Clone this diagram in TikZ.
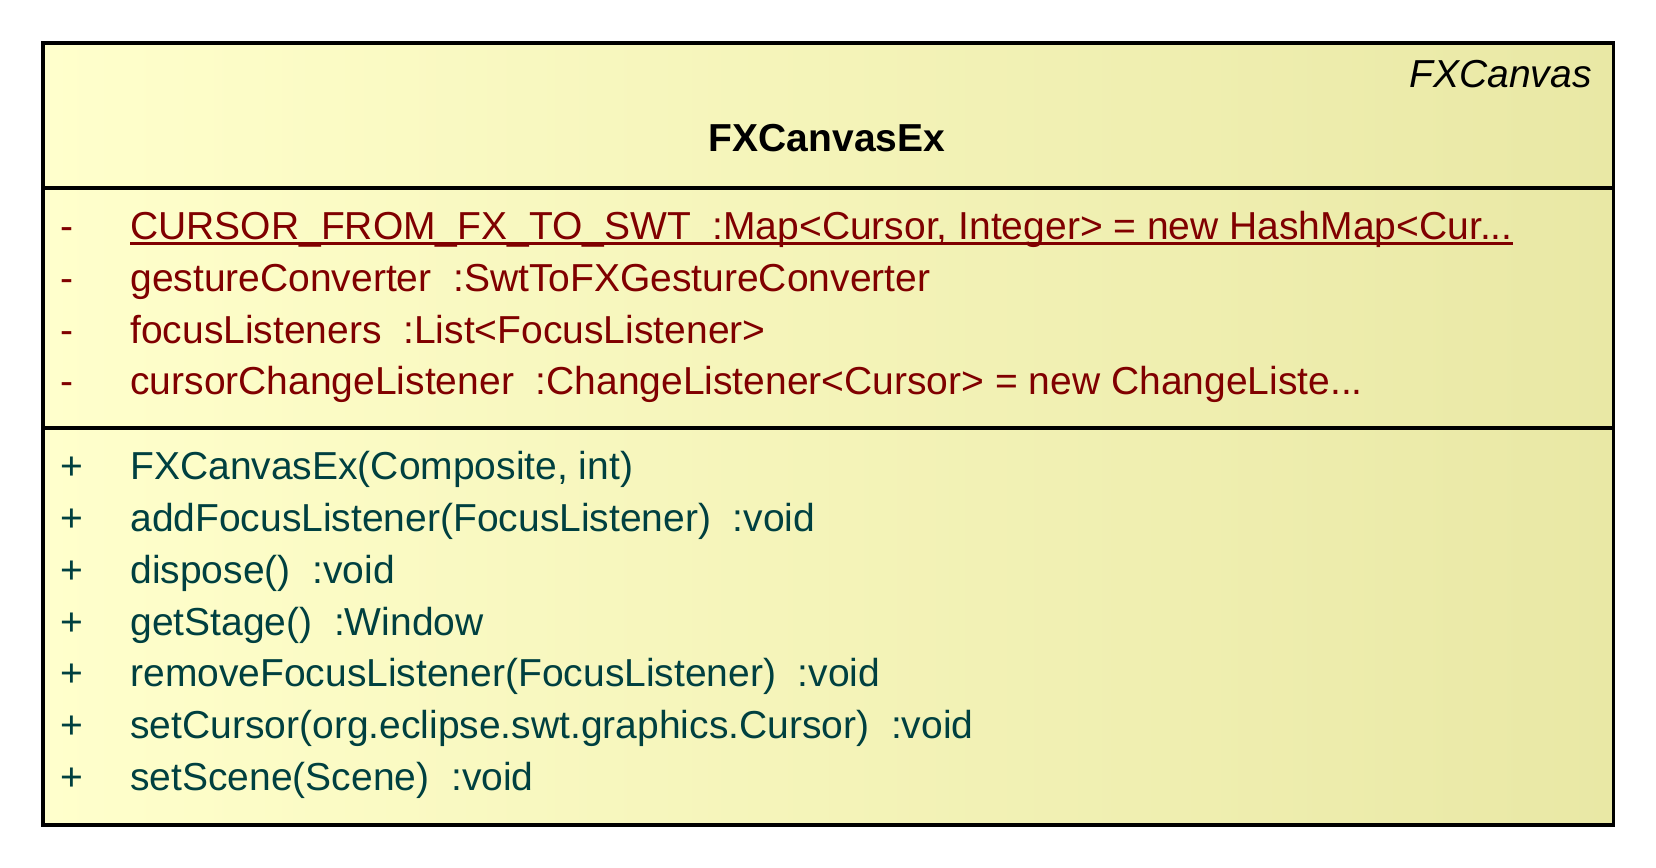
\documentclass[tikz,border=0pt]{standalone}
\usepackage{fontspec}
\setmainfont{Liberation Sans}
\usepackage{tikz}
\usetikzlibrary{positioning, calc}
\definecolor{attrred}{RGB}{128, 0, 0}
\definecolor{opteal}{RGB}{0, 64, 64}
\definecolor{classleft}{RGB}{255, 255, 204}
\definecolor{classright}{RGB}{233, 232, 165}

\begin{document}
\begin{tikzpicture}[x=0.02cm, y=-0.02cm,
  member/.style={anchor=base west, inner sep=0pt, font=\fontsize{22.2}{26}\selectfont},
  attr/.style={member, text=attrred},
  oper/.style={member, text=opteal},
  vis/.style={anchor=base}]
  \useasboundingbox (0,0) rectangle (1656,868);

  % Class box
  \node[draw, line width=2.1pt, left color=classleft, right color=classright, anchor=north west, minimum width=31.42cm, minimum height=15.64cm, inner sep=0pt] (cls) at (41,41) {};
  \draw[line width=1.9pt] (cls.west |- 0,188) -- (cls.east |- 0,188);
  \draw[line width=1.9pt] (cls.west |- 0,428) -- (cls.east |- 0,428);

  % Header
  \node[member, anchor=base east, font=\fontsize{22.2}{26}\selectfont\itshape] (parent) at (1592,88) {FXCanvas};
  \node[member, anchor=base, font=\fontsize{22.2}{26}\selectfont\bfseries] (classname) at (827,152) {FXCanvasEx};

  % Attributes
  \node[attr, vis] (avis1) at (67,239) {-};
  \node[attr] (attr1) at (130,239) {CURSOR\_FROM\_FX\_TO\_SWT\ \ :Map<Cursor, Integer> = new HashMap<Cur...};
  \draw[attrred, line width=1.5pt] ([yshift=-0.09cm]attr1.base west) -- ([yshift=-0.09cm]attr1.base east);
  \node[attr, vis] (avis2) at (67,291) {-};
  \node[attr] (attr2) at (130,291) {gestureConverter\ \ :SwtToFXGestureConverter};
  \node[attr, vis] (avis3) at (67,343) {-};
  \node[attr] (attr3) at (130,343) {focusListeners\ \ :List<FocusListener>};
  \node[attr, vis] (avis4) at (67,394) {-};
  \node[attr] (attr4) at (130,394) {cursorChangeListener\ \ :ChangeListener<Cursor> = new ChangeListe...};

  % Operations
  \node[oper, vis] (ovis1) at (72,479) {+};
  \node[oper] (oper1) at (130,479) {FXCanvasEx(Composite, int)};
  \node[oper, vis] (ovis2) at (72,531) {+};
  \node[oper] (oper2) at (130,531) {addFocusListener(FocusListener)\ \ :void};
  \node[oper, vis] (ovis3) at (72,583) {+};
  \node[oper] (oper3) at (130,583) {dispose()\ \ :void};
  \node[oper, vis] (ovis4) at (72,635) {+};
  \node[oper] (oper4) at (130,635) {getStage()\ \ :Window};
  \node[oper, vis] (ovis5) at (72,686) {+};
  \node[oper] (oper5) at (130,686) {removeFocusListener(FocusListener)\ \ :void};
  \node[oper, vis] (ovis6) at (72,738) {+};
  \node[oper] (oper6) at (130,738) {setCursor(org.eclipse.swt.graphics.Cursor)\ \ :void};
  \node[oper, vis] (ovis7) at (72,790) {+};
  \node[oper] (oper7) at (130,790) {setScene(Scene)\ \ :void};
\end{tikzpicture}
\end{document}
